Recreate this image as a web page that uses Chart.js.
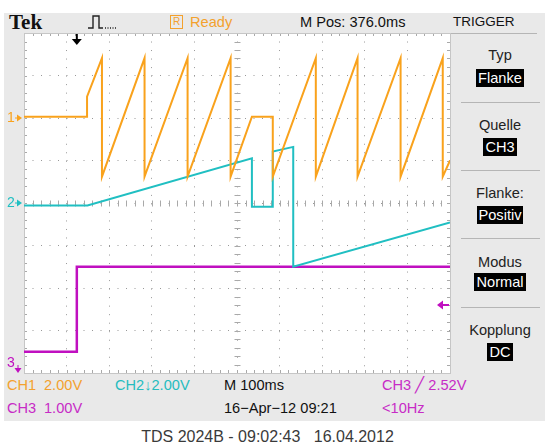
<!DOCTYPE html>
<html>
<head>
<meta charset="utf-8">
<script src="https://cdn.jsdelivr.net/npm/chart.js@4/dist/chart.umd.min.js"></script>
<style>
  body { margin: 0; width: 545px; height: 448px; background: #fff; position: relative; overflow: hidden;
         font-family: 'Liberation Sans', Arial, sans-serif; }
  #frame { position: absolute; left: 4px; top: 13px; width: 541px; height: 408px; background: #e9e9e9; }
  #scope { position: absolute; left: 0; top: 0; }
  .t { position: absolute; font-size: 14.6px; line-height: 16px; white-space: nowrap; }
  .menu { position: absolute; left: 455px; width: 90px; text-align: center; font-size: 14.6px; line-height: 16px; color: #222; }
  .inv { display: inline-block; background: #000; color: #fff; padding: 0 2px; line-height: 18px; }
  .sep { position: absolute; left: 461px; width: 79px; height: 1px; background: #b5b5b5; }
  .or { color: #f3a12e; } .cy { color: #26bcbf; } .pu { color: #c72bc6; } .bk { color: #111; }
</style>
</head>
<body>
<div id="frame"></div>

<!-- header -->
<div class="t bk" style="left:9px;top:11px;font:bold 21px 'Liberation Serif',serif;line-height:22px;">Tek</div>
<svg style="position:absolute;left:86px;top:13px" width="34" height="18">
  <path d="M2 15 H7 V3 H13 V15 H17" fill="none" stroke="#222" stroke-width="1.4"/>
  <path d="M19 15 H31" fill="none" stroke="#222" stroke-width="1.4" stroke-dasharray="1 1.5"/>
</svg>
<div class="t or" style="left:170px;top:15px;width:11px;height:12px;border:1px solid #f3a12e;font-size:10px;line-height:12px;text-align:center;">R</div>
<div class="t or" style="left:190px;top:14px;">Ready</div>
<div class="t bk" style="left:300px;top:14px;">M Pos: 376.0ms</div>
<div class="t bk" style="left:453px;top:14px;font-size:13.5px;">TRIGGER</div>
<div class="sep" style="left:442px;width:95px;top:33px;"></div>

<!-- trigger menu -->
<div class="menu" style="top:47px;">Typ</div>
<div class="menu" style="top:69px;"><span class="inv">Flanke</span></div>
<div class="sep" style="top:102px;"></div>
<div class="menu" style="top:117px;">Quelle</div>
<div class="menu" style="top:138px;"><span class="inv">CH3</span></div>
<div class="sep" style="top:170px;"></div>
<div class="menu" style="top:185px;">Flanke:</div>
<div class="menu" style="top:206px;"><span class="inv">Positiv</span></div>
<div class="sep" style="top:238px;"></div>
<div class="menu" style="top:254px;">Modus</div>
<div class="menu" style="top:273px;"><span class="inv">Normal</span></div>
<div class="sep" style="top:307px;"></div>
<div class="menu" style="top:322px;">Kopplung</div>
<div class="menu" style="top:343px;"><span class="inv">DC</span></div>

<!-- status lines -->
<div class="t or" style="left:7px;top:377px;">CH1</div>
<div class="t or" style="left:44px;top:377px;">2.00V</div>
<div class="t cy" style="left:115px;top:377px;">CH2↓2.00V</div>
<div class="t bk" style="left:224px;top:377px;">M 100ms</div>
<div class="t pu" style="left:382px;top:377px;">CH3 ╱ 2.52V</div>
<div class="t pu" style="left:7px;top:400px;">CH3</div>
<div class="t pu" style="left:44px;top:400px;">1.00V</div>
<div class="t bk" style="left:224px;top:400px;">16−Apr−12 09:21</div>
<div class="t pu" style="left:382px;top:400px;">&lt;10Hz</div>

<div class="t" style="left:0;width:535px;top:428px;text-align:center;font-size:16px;line-height:18px;color:#3a3a3a;">TDS 2024B - 09:02:43&nbsp;&nbsp; 16.04.2012</div>

<canvas id="scope" width="545" height="448"></canvas>

<script>
// screen is 10 x 8 divisions, values below are in divisions
const ch1X = [0, 1.48, 1.48, 1.83, 1.83, 2.83, 2.83, 3.84, 3.84, 4.85, 4.85, 5.35, 5.84, 5.84, 6.85, 6.85, 7.83, 7.83, 8.84, 8.84, 9.83, 9.83, 10];
const ch1Y = [2.03, 2.03, 2.5, 3.41, 0.62, 3.41, 0.62, 3.41, 0.62, 3.41, 0.62, 2.03, 2.03, 0.62, 3.41, 0.62, 3.41, 0.62, 3.41, 0.62, 3.41, 0.62, 1.0];

const ch2X = [0, 1.49, 5.35, 5.35, 5.84, 5.84, 6.32, 6.32, 10];
const ch2Y = [-0.06, -0.06, 1.05, -0.09, -0.09, 1.21, 1.32, -1.5, -0.46];

const ch3X = [0, 1.24, 1.24, 10];
const ch3Y = [-3.5, -3.5, -1.5, -1.5];

const groundLevels = [2, 0];      // CH1, CH2 reference markers
const triggerPos = 1.24;
const triggerLevel = -2.4;

const orange = '#f9a21c', cyan = '#20bfc2', purple = '#c010c0';

function pts(xs, ys) {
  return xs.map((x, i) => ({ x: x, y: ys[i] }));
}

// white screen, graticule ticks and frame
const graticule = {
  id: 'graticule',
  beforeDraw(chart) {
    const a = chart.chartArea, ctx = chart.ctx;
    ctx.save();
    ctx.fillStyle = '#fff';
    ctx.fillRect(a.left, a.top, a.right - a.left, a.bottom - a.top);
    ctx.restore();
  },
  beforeDatasetsDraw(chart) {
    const a = chart.chartArea, ctx = chart.ctx;
    const xs = chart.scales.x, ys = chart.scales.y;
    ctx.save();
    ctx.strokeStyle = '#a9a9a9';
    ctx.lineWidth = 1;
    ctx.beginPath();
    const cy = Math.round(ys.getPixelForValue(0)) + 0.5;
    const cx = Math.round(xs.getPixelForValue(5)) + 0.5;
    for (let i = 0; i <= 50; i++) {
      const px = Math.round(xs.getPixelForValue(i / 5)) + 0.5;
      ctx.moveTo(px, cy - 3); ctx.lineTo(px, cy + 3);
      ctx.moveTo(px, a.top); ctx.lineTo(px, a.top + 3);
      ctx.moveTo(px, a.bottom); ctx.lineTo(px, a.bottom - 3);
    }
    for (let i = -20; i <= 20; i++) {
      const py = Math.round(ys.getPixelForValue(i / 5)) + 0.5;
      ctx.moveTo(cx - 3, py); ctx.lineTo(cx + 3, py);
      ctx.moveTo(a.left, py); ctx.lineTo(a.left + 3, py);
      ctx.moveTo(a.right, py); ctx.lineTo(a.right - 3, py);
    }
    ctx.stroke();
    ctx.strokeStyle = '#c6c6c6';
    ctx.strokeRect(Math.round(a.left) + 0.5, Math.round(a.top) + 0.5, Math.round(a.right - a.left), Math.round(a.bottom - a.top));
    ctx.restore();
  },
  afterDatasetsDraw(chart) {
    const ctx = chart.ctx, a = chart.chartArea;
    const xs = chart.scales.x, ys = chart.scales.y;
    ctx.save();
    ctx.font = '14px "Liberation Sans", Arial, sans-serif';
    ctx.textBaseline = 'middle';
    [[orange, '1'], [cyan, '2']].forEach((c, i) => {
      const y = ys.getPixelForValue(groundLevels[i]);
      ctx.fillStyle = c[0];
      ctx.strokeStyle = c[0];
      ctx.fillText(c[1], 7, y);
      ctx.beginPath();
      ctx.moveTo(15, y); ctx.lineTo(18, y);
      ctx.stroke();
      ctx.beginPath();
      ctx.moveTo(17, y - 3.5); ctx.lineTo(22, y); ctx.lineTo(17, y + 3.5);
      ctx.closePath(); ctx.fill();
    });
    // CH3 reference is below the screen
    ctx.fillStyle = purple;
    ctx.strokeStyle = purple;
    ctx.fillText('3', 7, 363);
    ctx.beginPath();
    ctx.moveTo(18, 365); ctx.lineTo(18, 369); ctx.stroke();
    ctx.beginPath();
    ctx.moveTo(14.5, 368); ctx.lineTo(21.5, 368); ctx.lineTo(18, 373);
    ctx.closePath(); ctx.fill();
    // trigger level arrow on the right edge
    const ty = ys.getPixelForValue(triggerLevel);
    ctx.lineWidth = 2;
    ctx.beginPath();
    ctx.moveTo(442, ty); ctx.lineTo(449, ty); ctx.stroke();
    ctx.beginPath();
    ctx.moveTo(437, ty); ctx.lineTo(443, ty - 4.5); ctx.lineTo(443, ty + 4.5);
    ctx.closePath(); ctx.fill();
    // trigger position arrow on top
    const tx = xs.getPixelForValue(triggerPos);
    ctx.fillStyle = '#000';
    ctx.strokeStyle = '#000';
    ctx.beginPath();
    ctx.moveTo(tx, a.top + 1); ctx.lineTo(tx, a.top + 7); ctx.stroke();
    ctx.beginPath();
    ctx.moveTo(tx - 5, a.top + 6); ctx.lineTo(tx + 5, a.top + 6); ctx.lineTo(tx, a.top + 12);
    ctx.closePath(); ctx.fill();
    ctx.restore();
  }
};

const gridOpts = { color: '#999999', lineWidth: 1, drawTicks: false };

new Chart('scope', {
  type: 'line',
  data: {
    datasets: [
      { label: 'CH1', data: pts(ch1X, ch1Y), borderColor: orange, borderWidth: 2 },
      { label: 'CH2', data: pts(ch2X, ch2Y), borderColor: cyan, borderWidth: 2 },
      { label: 'CH3', data: pts(ch3X, ch3Y), borderColor: purple, borderWidth: 2.5 }
    ]
  },
  options: {
    responsive: false,
    animation: false,
    devicePixelRatio: 1,
    layout: { padding: { left: 24, top: 33, right: 95, bottom: 75 } },
    elements: { point: { radius: 0 }, line: { tension: 0 } },
    plugins: { legend: { display: false }, tooltip: { enabled: false } },
    scales: {
      x: {
        type: 'linear', min: 0, max: 10,
        ticks: { display: false, stepSize: 1 },
        grid: gridOpts,
        border: { display: false, dash: [1, 7.52] },
        afterFit(s) { s.height = 0; }
      },
      y: {
        type: 'linear', min: -4, max: 4,
        ticks: { display: false, stepSize: 1 },
        grid: gridOpts,
        border: { display: false, dash: [1, 7.5] },
        afterFit(s) { s.width = 0; }
      }
    }
  },
  plugins: [graticule]
});
</script>
</body>
</html>
